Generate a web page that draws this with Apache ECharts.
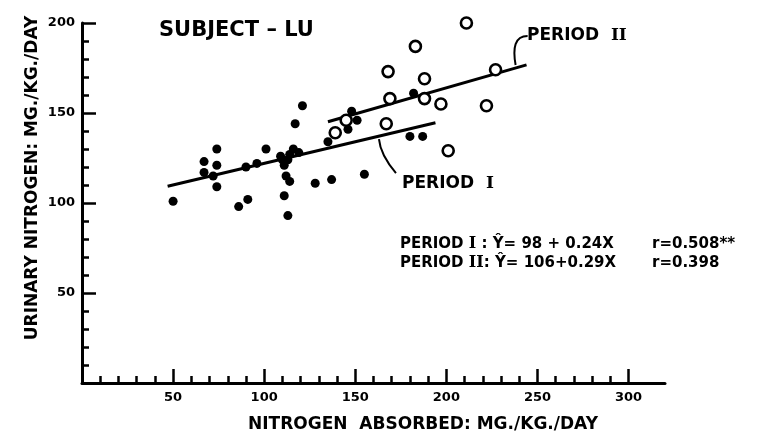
<!DOCTYPE html>
<html>
<head>
<meta charset="utf-8">
<script src="https://cdn.jsdelivr.net/npm/echarts@6/dist/echarts.min.js"></script>
<style>
  html, body { margin: 0; padding: 0; background: #fff; }
  #chart { width: 759px; height: 440px; }
</style>
</head>
<body>
<div id="chart"></div>
<script>
// Period I observations (filled dots): nitrogen absorbed vs urinary nitrogen, mg/kg/day
const period1X = [50, 67, 74, 74, 67, 72, 74, 86, 91, 90, 96, 101, 110, 113, 109, 111, 116, 119, 114,
                  117, 121, 114, 112, 111, 113, 128, 137, 155, 135, 146, 151, 148, 180, 187, 182];
const period1Y = [101, 123, 130, 121, 117, 115, 109, 98, 102, 120, 122, 130, 124, 124, 126, 121, 130, 128, 127,
                  144, 154, 112, 115, 104, 93, 111, 113, 116, 134, 141, 146, 151, 137, 137, 161];

// Period II observations (open circles)
const period2X = [211, 183, 168, 188, 169, 188, 197, 222, 227, 167, 201, 139, 145];
const period2Y = [200, 187, 173, 169, 158, 158, 155, 154, 174, 144, 129, 139, 146];

// Regression lines: Y = intercept + slope * X, drawn over the observed X range
const fitNames = ['PERIOD I', 'PERIOD II'];
const fitIntercepts = [98, 106];
const fitSlopes = [0.24, 0.29];
const fitFrom = [47, 135];
const fitTo = [194, 244];
const fitR = ['0.508**', '0.398'];

// Axis tick values
const xMajorTicks = [0, 50, 100, 150, 200, 250, 300];
const xLabels = [50, 100, 150, 200, 250, 300];
const xMinorTicks = [10, 20, 30, 40, 60, 70, 80, 90, 110, 120, 130, 140, 160, 170, 180, 190,
                     210, 220, 230, 240, 260, 270, 280, 290];

const FONT = '"DejaVu Sans", "Liberation Sans", sans-serif';
const INK = '#000';

const zip = (xs, ys) => xs.map((x, i) => [x, ys[i]]);
const fitLine = i => [
  [fitFrom[i], fitIntercepts[i] + fitSlopes[i] * fitFrom[i]],
  [fitTo[i], fitIntercepts[i] + fitSlopes[i] * fitTo[i]]
];

const gridRect = { left: 82, top: 23, width: 583, height: 360 };

const chart = echarts.init(document.getElementById('chart'), null, { renderer: 'canvas' });

chart.setOption({
  backgroundColor: '#fff',
  animation: false,
  title: {
    text: 'SUBJECT – LU',
    left: 154, top: 15,
    textStyle: { fontFamily: FONT, fontWeight: 'bold', fontSize: 21, color: INK }
  },
  grid: [Object.assign({}, gridRect), Object.assign({}, gridRect)],
  xAxis: [{
    gridIndex: 0, type: 'value', min: 0, max: 320,
    axisLine: { show: true, lineStyle: { color: INK, width: 3 } },
    axisTick: { show: true, inside: true, length: 14, customValues: xMajorTicks,
                lineStyle: { color: INK, width: 2.5 } },
    axisLabel: { show: true, customValues: xLabels, margin: 8,
                 fontFamily: FONT, fontWeight: 'bold', fontSize: 13, color: INK },
    splitLine: { show: false }
  }, {
    gridIndex: 1, type: 'value', min: 0, max: 320,
    axisLine: { show: false },
    axisTick: { show: true, inside: true, length: 7, customValues: xMinorTicks,
                lineStyle: { color: INK, width: 2.5 } },
    axisLabel: { show: false },
    splitLine: { show: false }
  }],
  yAxis: [{
    gridIndex: 0, type: 'value', min: 0, max: 200, interval: 50,
    axisLine: { show: true, lineStyle: { color: INK, width: 3 } },
    axisTick: { show: true, inside: true, length: 14, lineStyle: { color: INK, width: 2.5 } },
    minorTick: { show: true, splitNumber: 5, length: 7, lineStyle: { color: INK, width: 2.5 } },
    axisLabel: { show: true, margin: 7, fontFamily: FONT, fontWeight: 'bold', fontSize: 13, color: INK,
                 formatter: v => (v === 0 ? '' : String(v)) },
    splitLine: { show: false },
    minorSplitLine: { show: false }
  }, {
    gridIndex: 1, type: 'value', min: 0, max: 200, show: false
  }],
  series: [
    {
      name: fitNames[0], type: 'line', xAxisIndex: 0, yAxisIndex: 0,
      data: fitLine(0), symbol: 'none', z: 2,
      lineStyle: { color: INK, width: 3 }
    },
    {
      name: fitNames[1], type: 'line', xAxisIndex: 0, yAxisIndex: 0,
      data: fitLine(1), symbol: 'none', z: 2,
      lineStyle: { color: INK, width: 3 }
    },
    {
      name: 'Period I data', type: 'scatter', xAxisIndex: 0, yAxisIndex: 0,
      data: zip(period1X, period1Y), symbol: 'circle', symbolSize: 9, z: 3,
      itemStyle: { color: INK, opacity: 1 }
    },
    {
      name: 'Period II data', type: 'scatter', xAxisIndex: 0, yAxisIndex: 0,
      data: zip(period2X, period2Y), symbol: 'circle', symbolSize: 11, z: 4,
      itemStyle: { color: '#fff', borderColor: INK, borderWidth: 2.6, opacity: 1 }
    }
  ]
});

// Annotations: axis titles, line labels with leaders, and the regression equations
const px = (x, y) => chart.convertToPixel({ gridIndex: 0 }, [x, y]);
const onFit = (i, x) => px(x, fitIntercepts[i] + fitSlopes[i] * x);

const tip1 = onFit(0, 163);
const tip2 = onFit(1, 238);

const romanRich = {
  n: { fontFamily: '"DejaVu Serif", serif', fontWeight: 'bold', fontSize: 17, color: INK }
};
const eqRich = {
  n: { fontFamily: '"DejaVu Serif", serif', fontWeight: 'bold', fontSize: 16, color: INK }
};

chart.setOption({
  graphic: [
    {
      type: 'text', x: 33, y: 178, rotation: Math.PI / 2,
      style: { text: 'URINARY NITROGEN: MG./KG./DAY', fill: INK, align: 'center', verticalAlign: 'middle',
               font: 'bold 17px ' + FONT }
    },
    {
      type: 'text', x: 423, y: 425,
      style: { text: 'NITROGEN  ABSORBED: MG./KG./DAY', fill: INK, align: 'center', verticalAlign: 'middle',
               font: 'bold 17px ' + FONT }
    },
    {
      type: 'text', x: 402, y: 184,
      style: { text: 'PERIOD  {n|I}', rich: romanRich, fill: INK, align: 'left', verticalAlign: 'middle',
               font: 'bold 17px ' + FONT }
    },
    {
      type: 'bezierCurve',
      shape: { x1: tip1[0] + 17, y1: tip1[1] + 37, cpx1: tip1[0] + 6, cpy1: tip1[1] + 24,
               cpx2: tip1[0] + 1, cpy2: tip1[1] + 14, x2: tip1[0], y2: tip1[1] + 3 },
      style: { stroke: INK, lineWidth: 2, fill: null }
    },
    {
      type: 'text', x: 527, y: 36,
      style: { text: 'PERIOD  {n|II}', rich: romanRich, fill: INK, align: 'left', verticalAlign: 'middle',
               font: 'bold 17px ' + FONT }
    },
    {
      type: 'bezierCurve',
      shape: { x1: tip2[0] + 12, y1: tip2[1] - 32, cpx1: tip2[0] - 1, cpy1: tip2[1] - 32,
               cpx2: tip2[0] - 3, cpy2: tip2[1] - 20, x2: tip2[0], y2: tip2[1] - 3 },
      style: { stroke: INK, lineWidth: 2, fill: null }
    },
    {
      type: 'text', x: 400, y: 244,
      style: { text: 'PERIOD {n|I} : Ŷ= ' + fitIntercepts[0] + ' + ' + fitSlopes[0].toFixed(2) + 'X',
               rich: eqRich, fill: INK, align: 'left', verticalAlign: 'middle', font: 'bold 15px ' + FONT }
    },
    {
      type: 'text', x: 652, y: 244,
      style: { text: 'r=' + fitR[0], fill: INK, align: 'left', verticalAlign: 'middle', font: 'bold 15px ' + FONT }
    },
    {
      type: 'text', x: 400, y: 263,
      style: { text: 'PERIOD {n|II}: Ŷ= ' + fitIntercepts[1] + '+' + fitSlopes[1].toFixed(2) + 'X',
               rich: eqRich, fill: INK, align: 'left', verticalAlign: 'middle', font: 'bold 15px ' + FONT }
    },
    {
      type: 'text', x: 652, y: 263,
      style: { text: 'r=' + fitR[1], fill: INK, align: 'left', verticalAlign: 'middle', font: 'bold 15px ' + FONT }
    }
  ]
});
</script>
</body>
</html>
